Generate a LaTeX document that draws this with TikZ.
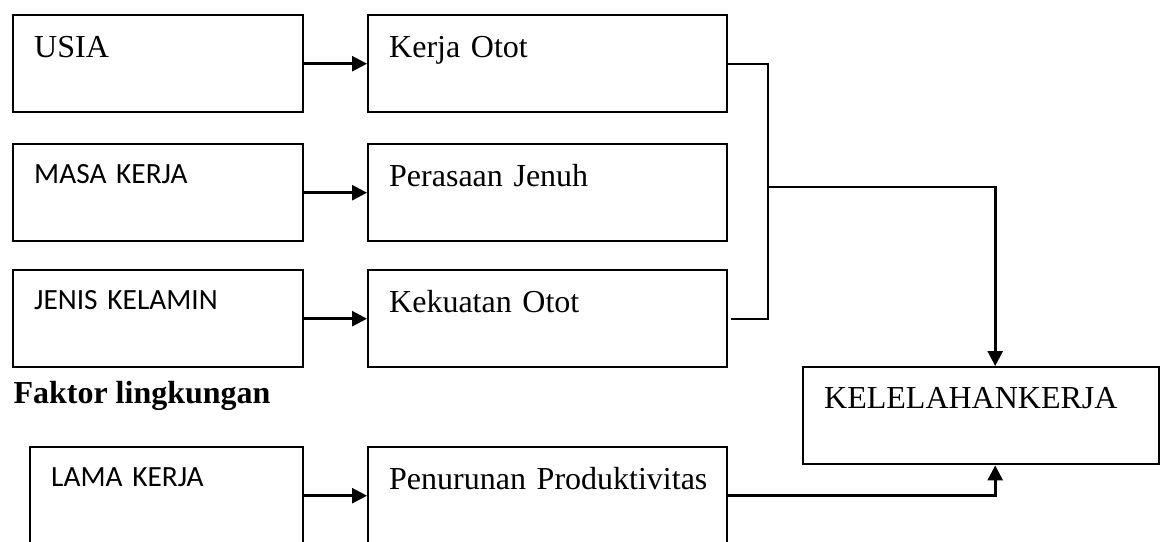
\documentclass[tikz,border=0pt]{standalone}
\usepackage{fontspec}
\setmainfont{Liberation Serif}
\newfontfamily\calibri{Carlito}
\usetikzlibrary{arrows.meta}

\begin{document}
\begin{tikzpicture}[x=0.375pt,y=-0.375pt,
                box/.style={rectangle,draw=black,line width=0.9pt,anchor=north west,
                inner xsep=7.875pt,inner ysep=0pt,align=left,
                text height=15.75pt,text depth=20.625pt,
                font=\fontsize{12pt}{14pt}\selectfont},
                sansbox/.style={box,text height=14.625pt,text depth=21.75pt,
                font=\calibri\fontsize{11pt}{13pt}\selectfont},
                arrow/.style={line width=1pt,-{Triangle[length=5.6pt,width=5.6pt]}},
                link/.style={line width=0.75pt}]
                \useasboundingbox (0,0) rectangle (1167,541);
                \clip (0,0) rectangle (1167,541);
                % faktor individu
                \node (usia) at (12,14) [box,text width=93pt] {USIA};
                \node (masa) at (12,143) [sansbox,text width=93pt] {MASA KERJA};
                \node (jenis) at (12,269) [sansbox,text width=93pt] {JENIS KELAMIN};
                \node (otot) at (367,14) [box,text width=118.875pt] {Kerja Otot};
                \node (jenuh) at (367,143) [box,text width=118.875pt] {Perasaan Jenuh};
                \node (kuat) at (367,269) [box,text width=118.875pt] {Kekuatan Otot};
                % faktor lingkungan
                \node (faktor) at (13,403) [anchor=base west,inner sep=0pt,
                font=\bfseries\fontsize{12pt}{14pt}\selectfont] {Faktor lingkungan};
                \node (lama) at (29,446) [sansbox,text width=86.625pt] {LAMA KERJA};
                \node (turun) at (367,446) [box,text width=118.875pt] {\mbox{Penurunan Produktivitas}};
                \node (lelah) at (802,366) [box,text width=117.75pt,
                text height=15.375pt,text depth=21pt] {KELELAHANKERJA};
                \coordinate (knee) at (768,187);
                \draw (usia) edge[arrow] (otot);
                \draw (masa) edge[arrow] (jenuh);
                \draw (jenis) edge[arrow] (kuat);
                \draw (lama) edge[arrow] (turun);
                \draw[link] (otot.east) -| (knee);
                \draw[link] ([xshift=1.1pt]kuat.east) -| (knee);
                \draw[arrow] (knee) -| ([xshift=5.25pt]lelah.north);
                \draw[arrow] (turun.east) -| ([xshift=5.25pt]lelah.south);
\end{tikzpicture}
\end{document}
